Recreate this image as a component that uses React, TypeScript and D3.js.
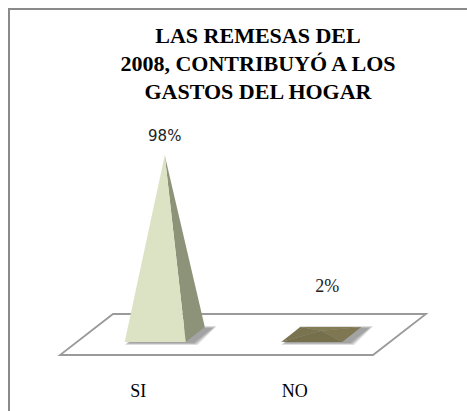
// Remesas 2008 pyramid chart, v9
import React, { useEffect, useState } from "react";
import * as d3 from "d3";

const titleLines = ["LAS REMESAS DEL", "2008, CONTRIBUYÓ A LOS", "GASTOS DEL HOGAR"];
const categories = ["SI", "NO"];
const values = [98, 2];
const valueLabels = ["98%", "2%"];

const W = 467;
const H = 411;
const SERIF = '"Liberation Serif", "Tinos", "Times New Roman", "DejaVu Serif", serif';
const SANS = '"DejaVu Sans", "Verdana", sans-serif';

const fontLoads: Promise<unknown>[] = [];
try {
  if (typeof document !== "undefined" && (document as any).fonts) {
    fontLoads.push((document as any).fonts.load('bold 22px "Liberation Serif"', "LAS 2008 Ó"));
    fontLoads.push((document as any).fonts.load('18px "Liberation Serif"', "SI NO 2%"));
    fontLoads.push((document as any).fonts.load('15px "DejaVu Sans"', "98%"));
  }
} catch (e) {
  /* ignore */
}

export default function App() {
  const [, setReady] = useState(0);
  useEffect(() => {
    Promise.all(fontLoads).then(() => setReady((v) => v + 1)).catch(() => setReady((v) => v + 1));
  }, []);

  const frontY = 355;
  const x = d3.scaleBand().domain(categories).range([60, 373]).paddingInner(0).paddingOuter(0);
  const y = d3.scaleLinear().domain([0, 100]).range([0, 183]);
  const depthDX = 53;
  const depthDY = -41;
  const proj = (px: number, depth: number, h = 0): [number, number] => [
    px + depthDX * depth,
    frontY + depthDY * depth - h,
  ];

  const floor = [proj(60, 0), proj(373, 0), proj(373, 1), proj(60, 1)];
  const barW = x.bandwidth() * 0.39;
  const d0 = 0.32;
  const d1 = 0.68;

  const line = (pts: [number, number][]) => "M" + pts.map((p) => p.join(",")).join("L") + "Z";

  const bars = categories.map((c, i) => {
    const cx = (x(c) as number) + x.bandwidth() / 2;
    const l = cx - barW / 2;
    const r = cx + barW / 2;
    const fl = proj(l, d0);
    const fr = proj(r, d0);
    const br = proj(r, d1);
    const bl = proj(l, d1);
    const apex = proj(cx, 0.5, y(values[i]));
    return { c, cx, fl, fr, br, bl, apex, v: values[i], label: valueLabels[i] };
  });

  const floorBackY = proj(0, 1)[1];
  const spread = [4, 3, 2, 1, 0];

  return (
    <svg width={W} height={H} style={{ position: "absolute", left: 0, top: 0 }}>
      <rect x={9} y={9} width={W + 20} height={H + 20} fill="#fff" stroke="#8a8a8a" strokeWidth={2} />
      {titleLines.map((t, i) => (
        <text
          key={i}
          x={258}
          y={43 + i * 28}
          textAnchor="middle"
          style={{ fontFamily: SERIF, fontWeight: 700, fontSize: "22px", fill: "#000" }}
        >
          {t}
        </text>
      ))}
      <path d={line(floor)} fill="#fff" stroke="#9a9a9a" strokeWidth={1.8} />
      {bars.map((b) => (
        <g key={b.c}>
          {spread.map((s) => (
            <path
              key={s}
              d={line([
                [b.fl[0] + 4 - s, b.fl[1] + 1 + s * 0.5],
                [b.fr[0] + 8 + s, b.fr[1] + 1 + s * 0.5],
                [b.br[0] + 8 + s, b.br[1] + 1 - s * 0.5],
                [b.bl[0] + 4 - s, b.bl[1] + 1 - s * 0.5],
              ])}
              fill="#444"
              opacity={0.12}
            />
          ))}
          {b.v > 10 ? (
            <>
              <path d={line([b.fr, b.br, b.apex])} fill="#8c9378" />
              <path d={line([b.fl, b.fr, b.apex])} fill="#dbe3c4" />
            </>
          ) : (
            <>
              <path d={line([b.bl, b.br, b.apex])} fill="#847c55" />
              <path d={line([b.fl, b.bl, b.apex])} fill="#7a7350" />
              <path d={line([b.fr, b.br, b.apex])} fill="#7e7752" />
              <path d={line([b.fl, b.fr, b.apex])} fill="#766f4c" />
            </>
          )}
          <text
            x={b.v > 10 ? b.apex[0] : b.apex[0] + 6}
            y={Math.min(b.apex[1] - 14, floorBackY - 22)}
            textAnchor="middle"
            style={{
              fontFamily: b.v > 10 ? SANS : SERIF,
              fontSize: b.v > 10 ? "15px" : "18px",
              fill: "#222",
            }}
          >
            {b.label}
          </text>
          <text
            x={b.cx}
            y={397}
            textAnchor="middle"
            style={{ fontFamily: SERIF, fontSize: "18px", fill: "#000" }}
          >
            {b.c}
          </text>
        </g>
      ))}
    </svg>
  );
}
